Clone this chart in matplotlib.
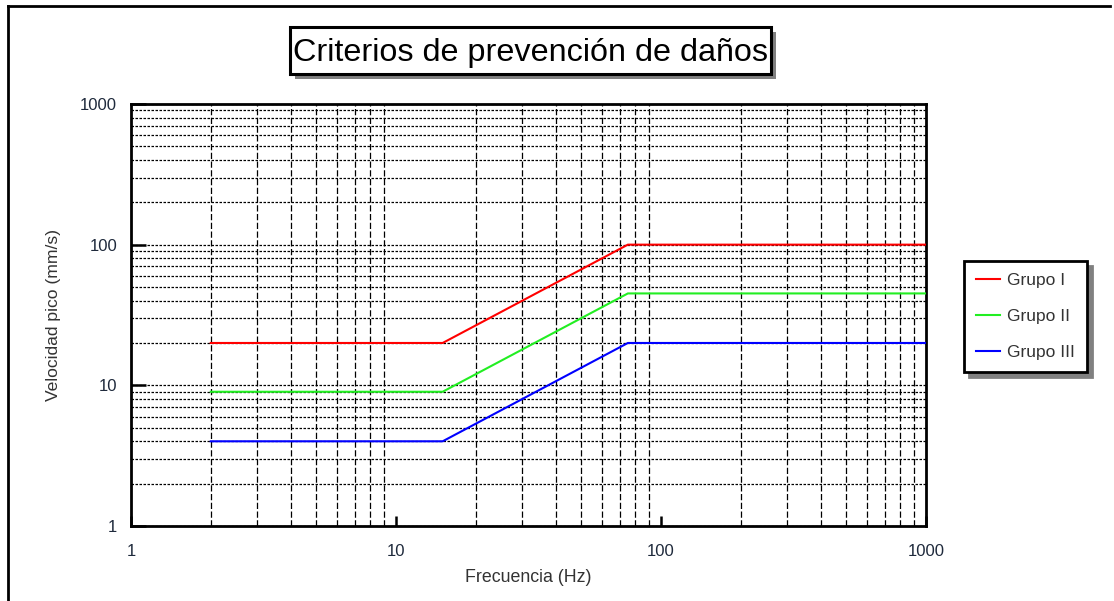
import matplotlib
matplotlib.use("Agg")
import matplotlib.pyplot as plt
from matplotlib.lines import Line2D
from matplotlib.patches import Rectangle
from matplotlib.ticker import LogLocator, NullFormatter

plt.rcParams['font.family'] = ['Liberation Sans', 'DejaVu Sans']

# damage-prevention criteria, peak velocity vs frequency
freq = [2, 15, 75, 1000]
grupo_i = [20, 20, 100, 100]
grupo_ii = [9, 9, 45, 45]
grupo_iii = [4, 4, 20, 20]
labels = ['Grupo I', 'Grupo II', 'Grupo III']
colors = ['#ff0000', '#22ee22', '#0000ff']

W, H = 1114, 601
fig = plt.figure(figsize=(W / 100, H / 100), dpi=100)
ax = fig.add_axes([0.1176, 0.1248, 0.7136, 0.7022])

for ys, lab, c in zip([grupo_i, grupo_ii, grupo_iii], labels, colors):
    ax.plot(freq, ys, color=c, lw=1.5, label=lab, zorder=3)

ax.set_xscale('log')
ax.set_yscale('log')
ax.set_xlim(1, 1000)
ax.set_ylim(1, 1000)

ax.xaxis.set_major_locator(LogLocator(base=10, numticks=10))
ax.yaxis.set_major_locator(LogLocator(base=10, numticks=10))
ax.xaxis.set_minor_locator(LogLocator(base=10, subs=range(2, 10), numticks=20))
ax.yaxis.set_minor_locator(LogLocator(base=10, subs=range(2, 10), numticks=20))
ax.xaxis.set_minor_formatter(NullFormatter())
ax.yaxis.set_minor_formatter(NullFormatter())
ax.xaxis.set_major_formatter(plt.FuncFormatter(lambda v, p: f'{v:g}'))
ax.yaxis.set_major_formatter(plt.FuncFormatter(lambda v, p: f'{v:g}'))

# grid: dashed verticals at the minor decades, dotted horizontals everywhere
ax.grid(True, which='minor', axis='x', color='black', lw=0.9, ls=(0, (5, 2)))
ax.grid(True, which='both', axis='y', color='black', lw=0.9, ls=(0, (2, 1.2)))
ax.set_axisbelow(True)

ax.tick_params(which='minor', length=0)
ax.tick_params(axis='y', which='major', direction='in', length=11, width=1.8,
               labelsize=12, labelcolor='#1f2a3c', pad=10)
ax.tick_params(axis='x', which='major', direction='in', length=7, width=1.8,
               labelsize=12, labelcolor='#1f2a3c', pad=13)
for s in ax.spines.values():
    s.set_linewidth(2)

ax.set_xlabel('Frecuencia (Hz)', fontsize=12.8, color='#333333', labelpad=7)
ax.set_ylabel('Velocidad pico (mm/s)', fontsize=12.6, color='#333333', labelpad=14)

leg = ax.legend(loc='upper left', bbox_to_anchor=(964 / W, 1 - 261 / H),
                bbox_transform=fig.transFigure, borderaxespad=0,
                fancybox=False, edgecolor='black', framealpha=1,
                fontsize=12.5, handlelength=1.4, handletextpad=0.4,
                labelspacing=1.2, borderpad=0.7,
                shadow={'ox': 3.6, 'oy': -3.6, 'facecolor': '#808080',
                        'edgecolor': '#808080', 'alpha': 1})
leg.get_frame().set_linewidth(2)
for t in leg.get_texts():
    t.set_color('#333333')

# boxed title with a gray drop shadow
bx0, by0, bx1, by1 = 290, 27, 771, 74
fig.add_artist(Rectangle(((bx0 + 5) / W, 1 - (by1 + 5) / H), (bx1 - bx0) / W,
                         (by1 - by0) / H, transform=fig.transFigure,
                         fc='#808080', ec='none', zorder=5))
fig.add_artist(Rectangle((bx0 / W, 1 - by1 / H), (bx1 - bx0) / W, (by1 - by0) / H,
                         transform=fig.transFigure, fc='white', ec='black',
                         lw=2.2, zorder=6))
fig.text((bx0 + bx1) / 2 / W, 1 - 61 / H, 'Criterios de prevención de daños',
         fontsize=23.3, ha='center', va='baseline', color='black', zorder=7)

# page border (left and top edges)
fig.add_artist(Line2D([8 / W, 8 / W], [0, 1 - 6 / H], transform=fig.transFigure,
                      color='black', lw=2))
fig.add_artist(Line2D([8 / W, 1110 / W], [1 - 6 / H, 1 - 6 / H],
                      transform=fig.transFigure, color='black', lw=2))

fig.savefig('out.png', dpi=100)
